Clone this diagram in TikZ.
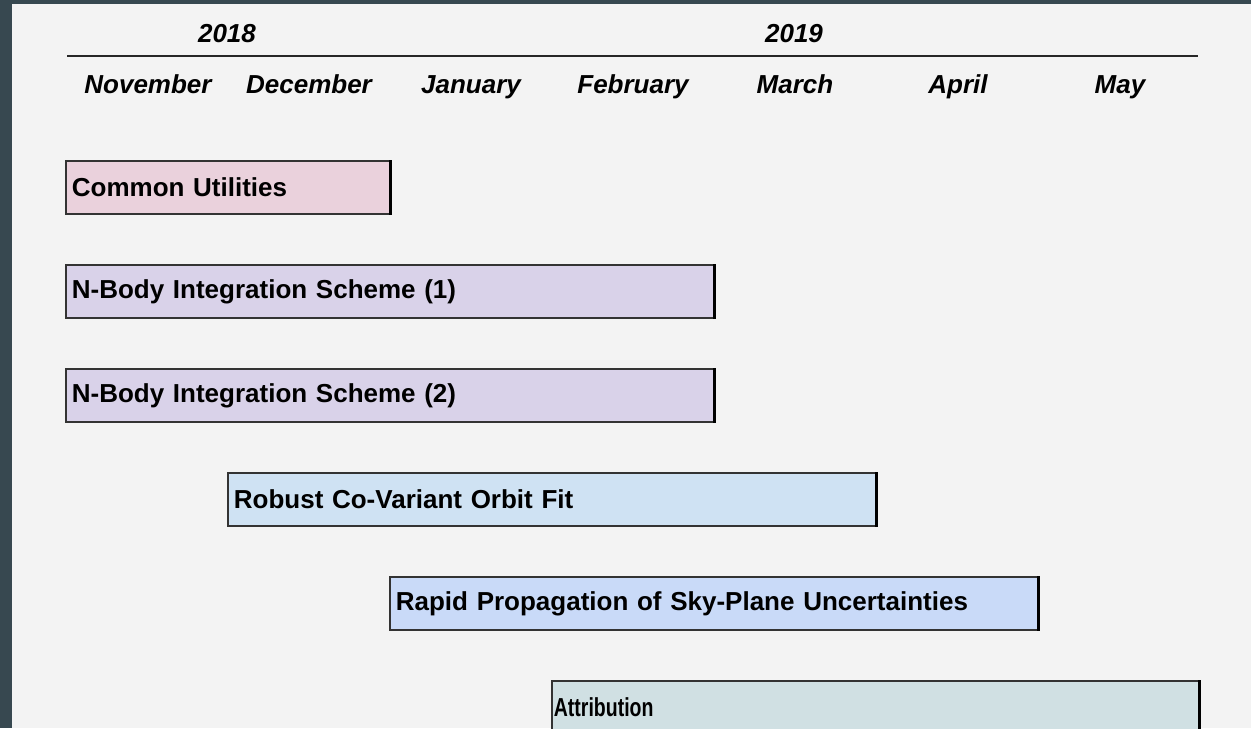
\documentclass[tikz,border=0pt]{standalone}
\usepackage{fontspec}
\usepackage{graphicx}
\setmainfont{Liberation Sans}
\definecolor{frame}{HTML}{374850}
\definecolor{paper}{HTML}{F3F3F3}
\definecolor{cmag}{HTML}{EAD1DC}
\definecolor{cpur}{HTML}{D9D2E9}
\definecolor{cblu}{HTML}{CFE2F3}
\definecolor{ccor}{HTML}{C9DAF8}
\definecolor{ccya}{HTML}{D0E0E3}
\tikzset{
  lbl/.style={font=\fontsize{19.5}{23}\selectfont\bfseries\itshape, inner sep=0pt, anchor=base},
  bar/.style={draw=black!80, line width=1.3pt, anchor=north west, minimum height=53*0.75pt,
    inner xsep=6*0.75pt, inner ysep=0pt, align=left,
    font=\fontsize{19.5}{23}\selectfont\bfseries},
  redge/.style={draw=black, line width=2.4pt},
  rule/.style={draw=black!85, line width=1.4pt}
}
\begin{document}
\begin{tikzpicture}[x=0.75pt,y=-0.75pt]
\useasboundingbox (0,0) rectangle (1251,728);
\clip (0,0) rectangle (1251,728);
\fill[frame] (0,0) rectangle (1251,728);
\fill[paper] (12,3.5) rectangle (1251,728);
% header
\node[lbl] (y18) at (227,42) {2018};
\node[lbl] (y19) at (794,42) {2019};
\coordinate (rl) at (67,56);
\coordinate (rr) at (1198,56);
\draw[rule] (rl) -- (rr);
\node[lbl] (m1) at (148,93) {November};
\node[lbl] (m2) at (309,93) {December};
\node[lbl] (m3) at (471,93) {January};
\node[lbl] (m4) at (633,93) {February};
\node[lbl] (m5) at (795,93) {March};
\node[lbl] (m6) at (958,93) {April};
\node[lbl] (m7) at (1120,93) {May};
% bars
\node[bar, fill=cmag, text width=(324-12)*0.75pt] (cu) at (65,160) {Common Utilities};
\node[bar, fill=cpur, text width=(648-12)*0.75pt] (nb1) at (65,264) {N-Body Integration Scheme (1)};
\node[bar, fill=cpur, text width=(648-12)*0.75pt] (nb2) at (65,368) {N-Body Integration Scheme (2)};
\node[bar, fill=cblu, text width=(648-12)*0.75pt] (rc) at (227,472) {Robust Co-Variant Orbit Fit};
\node[bar, fill=ccor, text width=(648-12)*0.75pt] (rp) at (389,576) {Rapid Propagation of Sky-Plane Uncertainties};
\node[bar, fill=ccya, text width=(647-12)*0.75pt] (at) at (551,680) {\hspace*{-3pt}\raisebox{-2pt}{\scalebox{0.75}[1]{Attribution}}};
\foreach \n in {cu,nb1,nb2,rc,rp,at}{
  \draw[redge] (\n.north east) -- (\n.south east);
}
\end{tikzpicture}
\end{document}
